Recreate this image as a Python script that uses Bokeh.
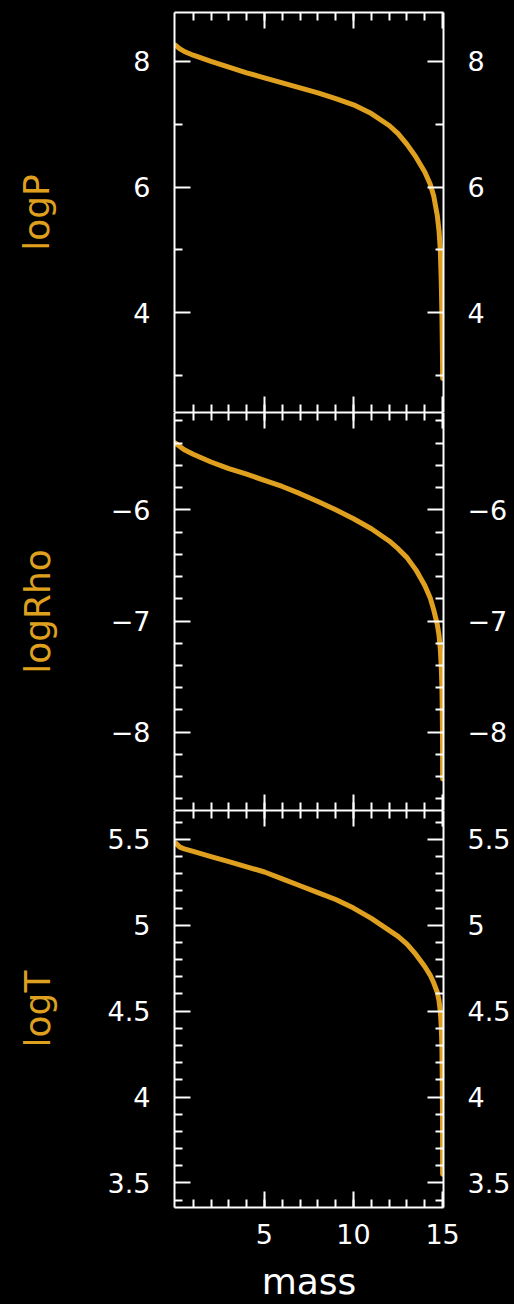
from bokeh.plotting import figure
from bokeh.layouts import column
from bokeh.models import (FixedTicker, LinearAxis, Range1d, CustomJSTickFormatter,
                          CustomLabelingPolicy)
from bokeh.embed import file_html
from bokeh.resources import INLINE

# ---- data ----
mass = [0, 0.25, 0.5, 1, 2, 3, 4, 5, 6, 7, 8, 9, 10, 11, 12, 12.5, 13, 13.5,
        14, 14.3, 14.5, 14.7, 14.8, 14.87, 14.92, 14.96, 14.98, 14.995, 15.0]
log_p = [8.26, 8.20, 8.16, 8.10, 8.00, 7.91, 7.82, 7.74, 7.66, 7.58, 7.50, 7.41,
         7.31, 7.17, 6.98, 6.85, 6.68, 6.48, 6.24, 6.05, 5.86, 5.55, 5.30, 5.00,
         4.55, 4.00, 3.60, 3.25, 2.95]
log_rho = [-5.40, -5.43, -5.46, -5.50, -5.57, -5.63, -5.68, -5.735, -5.79, -5.855,
           -5.925, -6.00, -6.08, -6.17, -6.28, -6.35, -6.43, -6.54, -6.68, -6.79,
           -6.90, -7.03, -7.13, -7.25, -7.40, -7.58, -7.78, -8.05, -8.42]
log_t = [5.48, 5.455, 5.445, 5.43, 5.40, 5.37, 5.34, 5.31, 5.27, 5.23, 5.19, 5.15,
         5.10, 5.04, 4.97, 4.935, 4.89, 4.83, 4.76, 4.71, 4.665, 4.61, 4.56, 4.50,
         4.42, 4.30, 4.12, 3.85, 3.55]

x_major = [5, 10, 15]
x_minor = list(range(1, 15))
p_major = [4, 6, 8]
p_minor = [3, 5, 7]
rho_major = [-8, -7, -6]
rho_minor = [-8.6, -8.4, -8.2, -7.8, -7.6, -7.4, -7.2, -6.8, -6.6, -6.4, -6.2,
             -5.8, -5.6, -5.4, -5.2]
t_major = [3.5, 4, 4.5, 5, 5.5]
t_minor = [3.4, 3.6, 3.7, 3.8, 3.9, 4.1, 4.2, 4.3, 4.4, 4.6, 4.7, 4.8, 4.9,
           5.1, 5.2, 5.3, 5.4, 5.6]

ORANGE = "#DFA01F"
FONT = "DejaVu Sans"

fmt = CustomJSTickFormatter(code="return (tick < 0 ? '\u2212' : '') + String(Math.abs(tick));")
no_labels = CustomLabelingPolicy(code="return new Set()")

x_range = Range1d(-0.05, 15.05)


def style_axis(ax, major, minor, labels):
    ax.ticker = FixedTicker(ticks=major, minor_ticks=minor)
    ax.axis_line_color = "white"
    ax.axis_line_width = 2
    ax.major_tick_line_color = "white"
    ax.major_tick_line_width = 2
    ax.minor_tick_line_color = "white"
    ax.minor_tick_line_width = 2
    ax.major_tick_in = 16
    ax.major_tick_out = 0
    ax.minor_tick_in = 8
    ax.minor_tick_out = 0
    ax.formatter = fmt
    if labels:
        ax.major_label_text_font = FONT
        ax.major_label_text_font_size = "27px"
        ax.major_label_text_color = "white"
        ax.major_label_standoff = 24
    else:
        ax.major_label_policy = no_labels
        ax.major_label_text_font_size = "0px"
        ax.major_label_standoff = 0


def panel(height, btop, bbot, yr, ymaj, ymin, ylabel, ystand, yvals, bottom_labels):
    p = figure(width=514, height=height, x_range=x_range, y_range=Range1d(*yr),
               output_backend="svg", toolbar_location=None,
               x_axis_location=None, y_axis_location=None,
               min_border_left=174, min_border_right=71,
               min_border_top=btop, min_border_bottom=bbot,
               background_fill_color="black", border_fill_color="black",
               outline_line_color=None)
    p.grid.visible = False

    left = LinearAxis()
    style_axis(left, ymaj, ymin, True)
    left.axis_label = ylabel
    left.axis_label_text_font = FONT
    left.axis_label_text_font_size = "36px"
    left.axis_label_text_font_style = "normal"
    left.axis_label_text_color = ORANGE
    left.axis_label_standoff = ystand
    p.add_layout(left, "left")

    right = LinearAxis()
    style_axis(right, ymaj, ymin, True)
    p.add_layout(right, "right")

    top = LinearAxis()
    style_axis(top, x_major, x_minor, False)
    p.add_layout(top, "above")

    bot = LinearAxis()
    style_axis(bot, x_major, x_minor, bottom_labels)
    if bottom_labels:
        bot.major_label_standoff = 16
        bot.axis_label = "mass"
        bot.axis_label_text_font = FONT
        bot.axis_label_text_font_size = "36px"
        bot.axis_label_text_font_style = "normal"
        bot.axis_label_text_color = "white"
        bot.axis_label_standoff = 14
    p.add_layout(bot, "below")

    p.line(mass, yvals, line_width=5, line_color=ORANGE, line_cap="round",
           line_join="round")
    return p


p1 = panel(412, 12, 0, (2.41, 8.78), p_major, p_minor, "logP", 73, log_p, False)
p2 = panel(398, 0, 0, (-8.704, -5.125), rho_major, rho_minor, "logRho", 50, log_rho, False)
p3 = panel(494, 0, 95, (3.357, 5.668), t_major, t_minor, "logT", 47, log_t, True)

layout = column(p1, p2, p3, spacing=0)

html = file_html(layout, INLINE)
html = html.replace("</head>", "<style>html,body{margin:0;padding:0;background:#000;}</style></head>", 1)
open("out.html", "w").write(html)
